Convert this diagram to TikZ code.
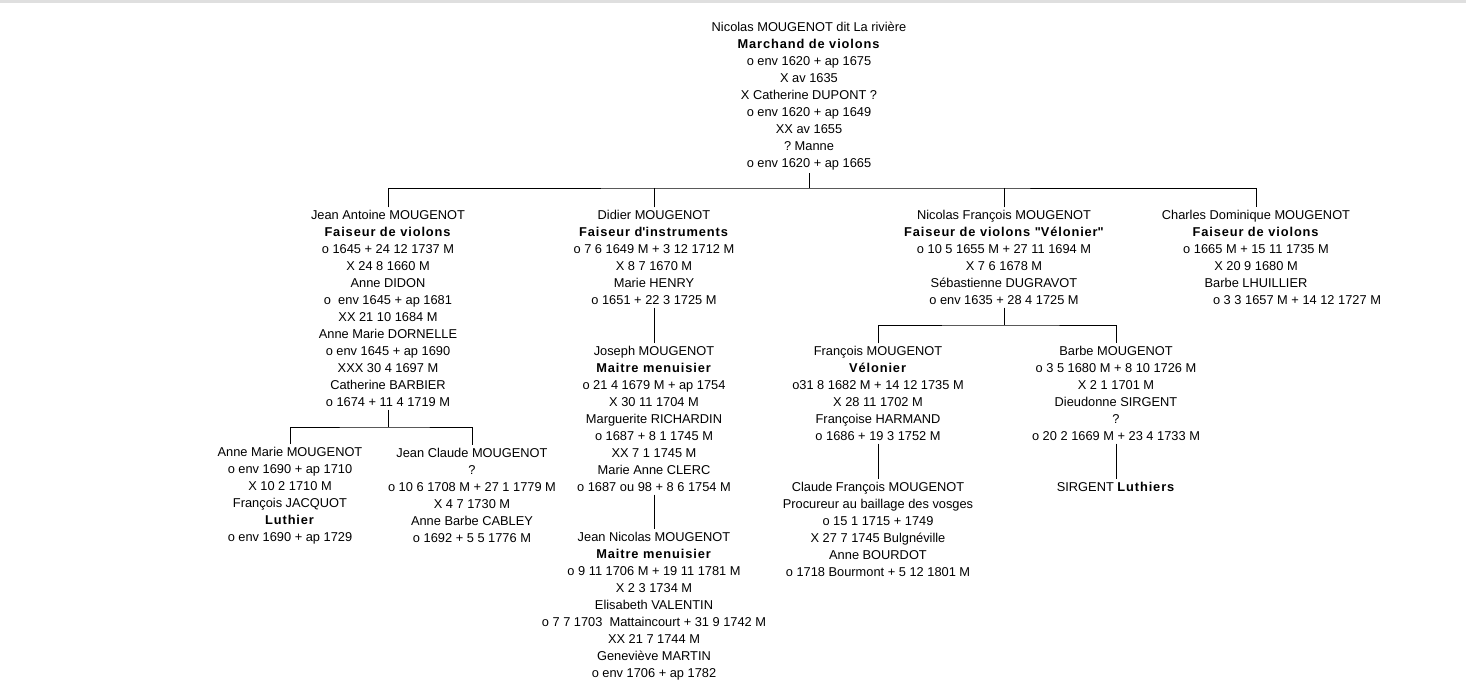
\documentclass[tikz,border=0pt]{standalone}
\usepackage{fontspec}
\setmainfont{Liberation Sans}[BoldFeatures={LetterSpace=7}]
\frenchspacing
\begin{document}
\begin{tikzpicture}[x=0.02cm,y=-0.02cm,
  person/.style={align=center,inner sep=0pt,outer sep=0.06cm,font=\fontsize{7.3}{9.67}\selectfont},
  link/.style={line width=0.02cm}]
\useasboundingbox (0,0) rectangle (1466,683);
\fill[gray!25] (0,0) rectangle (1466,3);
\node[person] (root) at (809,96) {Nicolas MOUGENOT dit La rivière\\\textbf{Marchand de violons}\\o env 1620 + ap 1675\\X av 1635\\X Catherine DUPONT ?\\o env 1620 + ap 1649\\XX av 1655\\? Manne\\o env 1620 + ap 1665};
\node[person] (jeanantoine) at (388,308.5) {Jean Antoine MOUGENOT\\\textbf{Faiseur de violons}\\o 1645 + 24 12 1737 M\\X 24 8 1660 M\\Anne DIDON\\o\ \ env 1645 + ap 1681\\XX 21 10 1684 M\\Anne Marie DORNELLE\\o env 1645 + ap 1690\\XXX 30 4 1697 M\\Catherine BARBIER\\o 1674 + 11 4 1719 M};
\node[person] (didier) at (654,257.5) {Didier MOUGENOT\\\textbf{Faiseur d\textquotesingle instruments}\\o 7 6 1649 M + 3 12 1712 M\\X 8 7 1670 M\\Marie HENRY\\o 1651 + 22 3 1725 M};
\node[person] (nicfr) at (1004,257.5) {Nicolas François MOUGENOT\\\textbf{Faiseur de violons \textquotedbl Vélonier\textquotedbl}\\o 10 5 1655 M + 27 11 1694 M\\X 7 6 1678 M\\Sébastienne DUGRAVOT\\o env 1635 + 28 4 1725 M};
\node[person] (charles) at (1256,257.5) {Charles Dominique MOUGENOT\\\textbf{Faiseur de violons}\\o 1665 M + 15 11 1735 M\\X 20 9 1680 M\\Barbe LHUILLIER\\\hspace*{1.64cm}o 3 3 1657 M + 14 12 1727 M};
\node[person] (annemarie) at (290,495.5) {Anne Marie MOUGENOT\\o env 1690 + ap 1710\\X 10 2 1710 M\\François JACQUOT\\\textbf{Luthier}\\o env 1690 + ap 1729};
\node[person] (jeanclaude) at (472,495.5) {Jean Claude MOUGENOT\\?\\o 10 6 1708 M + 27 1 1779 M\\X 4 7 1730 M\\Anne Barbe CABLEY\\o 1692 + 5 5 1776 M};
\node[person] (joseph) at (654,419) {Joseph MOUGENOT\\\textbf{Maitre menuisier}\\o 21 4 1679 M + ap 1754\\X 30 11 1704 M\\Marguerite RICHARDIN\\o 1687 + 8 1 1745 M\\XX 7 1 1745 M\\Marie Anne CLERC\\o 1687 ou 98 + 8 6 1754 M};
\node[person] (jeannicolas) at (654,606) {Jean Nicolas MOUGENOT\\\textbf{Maitre menuisier}\\o 9 11 1706 M + 19 11 1781 M\\X 2 3 1734 M\\Elisabeth VALENTIN\\o 7 7 1703\ \ Mattaincourt + 31 9 1742 M\\XX 21 7 1744 M\\Geneviève MARTIN\\o env 1706 + ap 1782};
\node[person] (francois) at (878,393.5) {François MOUGENOT\\\textbf{Vélonier}\\o31 8 1682 M + 14 12 1735 M\\X 28 11 1702 M\\Françoise HARMAND\\o 1686 + 19 3 1752 M};
\node[person] (barbe) at (1116,393.5) {Barbe MOUGENOT\\o 3 5 1680 M + 8 10 1726 M\\X 2 1 1701 M\\Dieudonne SIRGENT\\?\\o 20 2 1669 M + 23 4 1733 M};
\node[person] (claudefr) at (878,529.5) {Claude François MOUGENOT\\Procureur au baillage des vosges\\o 15 1 1715 + 1749\\X 27 7 1745 Bulgnéville\\Anne BOURDOT\\o 1718 Bourmont + 5 12 1801 M};
\node[person] (sirgent) at (1116,487) {SIRGENT \textbf{Luthiers}};

\coordinate (rootbus) at (809,188);
\draw[link] (root.south) -- (rootbus);
\draw[link] (jeanantoine.north) |- (rootbus) -| (charles.north);
\draw[link] (didier.north) -- (didier.north |- rootbus);
\draw[link] (nicfr.north) -- (nicfr.north |- rootbus);
\coordinate (jabus) at (388,427);
\draw[link] (jeanantoine.south) -- (jabus);
\draw[link] (annemarie.north) |- (jabus) -| (jeanclaude.north);
\draw[link] (didier.south) -- (joseph.north);
\draw[link] (joseph.south) -- (jeannicolas.north);
\coordinate (nfbus) at (1004,325);
\draw[link] (nicfr.south) -- (nfbus);
\draw[link] (francois.north) |- (nfbus) -| (barbe.north);
\draw[link] (francois.south) -- (claudefr.north);
\draw[link] (barbe.south) -- (sirgent.north);
\end{tikzpicture}
\end{document}
